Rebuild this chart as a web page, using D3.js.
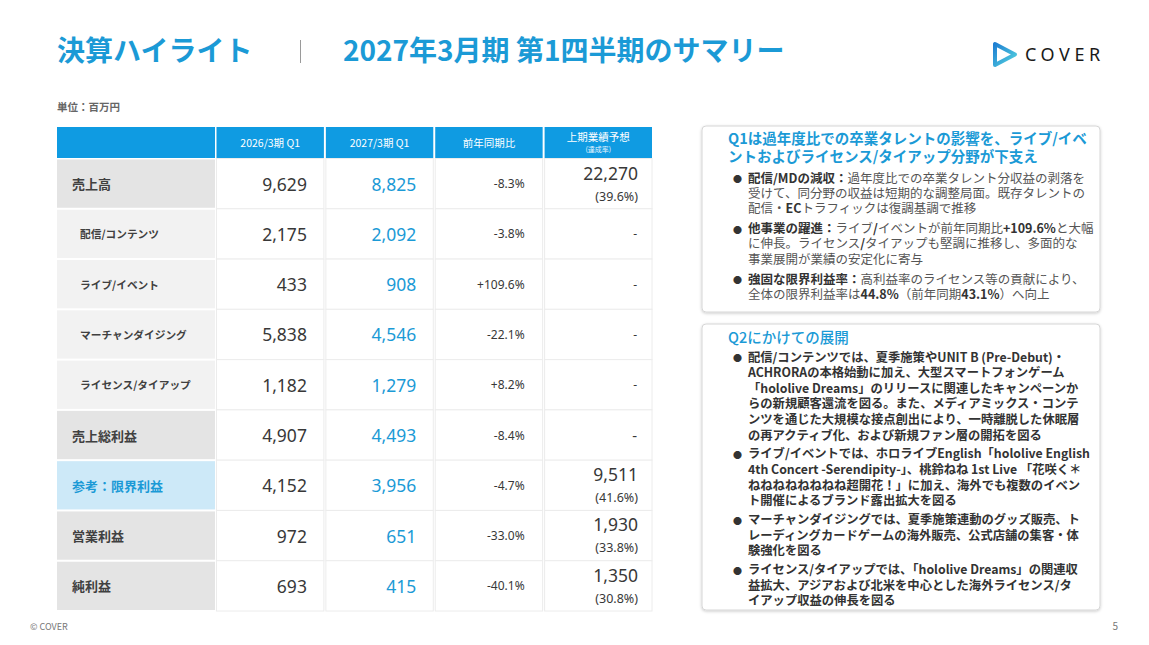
<!DOCTYPE html>
<html>
<head>
<meta charset="utf-8">
<script src="https://cdn.jsdelivr.net/npm/d3@7"></script>
<style>
  body { margin: 0; background: #fff; }
  svg { display: block; font-family: "Noto Sans CJK JP", "Noto Sans", sans-serif; }
</style>
</head>
<body>
<div id="chart"></div>
<script>
// ---- data ----
var categories = ['売上高', '配信/コンテンツ', 'ライブ/イベント', 'マーチャンダイジング', 'ライセンス/タイアップ',
                  '売上総利益', '参考：限界利益', '営業利益', '純利益'];
var rowKinds = ['main', 'sub', 'sub', 'sub', 'sub', 'main', 'ref', 'main', 'main'];
var q1FY2026 = [9629, 2175, 433, 5838, 1182, 4907, 4152, 972, 693];
var q1FY2027 = [8825, 2092, 908, 4546, 1279, 4493, 3956, 651, 415];
var yoyChange = [-8.3, -3.8, 109.6, -22.1, 8.2, -8.4, -4.7, -33.0, -40.1];
var h1Forecast = [22270, null, null, null, null, null, 9511, 1930, 1350];
var h1Achievement = [39.6, null, null, null, null, null, 41.6, 33.8, 30.8];
var columnHeaders = ['2026/3期 Q1', '2027/3期 Q1', '前年同期比', '上期業績予想'];

// text of the two comment boxes: each bullet is a list of lines, each line a list of [text, bold]
var q1Title = ['Q1は過年度比での卒業タレントの影響を、ライブ/イベ', 'ントおよびライセンス/タイアップ分野が下支え'];
var q1Bullets = [
  [[['配信/MDの減収：', 1], ['過年度比での卒業タレント分収益の剥落を', 0]],
   [['受けて、同分野の収益は短期的な調整局面。既存タレントの', 0]],
   [['配信・', 0], ['EC', 1], ['トラフィックは復調基調で推移', 0]]],
  [[['他事業の躍進：', 1], ['ライブ', 0], ['/', 1], ['イベントが前年同期比', 0], ['+109.6%', 1], ['と大幅', 0]],
   [['に伸長。ライセンス', 0], ['/', 1], ['タイアップも堅調に推移し、多面的な', 0]],
   [['事業展開が業績の安定化に寄与', 0]]],
  [[['強固な限界利益率：', 1], ['高利益率のライセンス等の貢献により、', 0]],
   [['全体の限界利益率は', 0], ['44.8%', 1], ['（前年同期', 0], ['43.1%', 1], ['）へ向上', 0]]]
];
var q2Title = ['Q2にかけての展開'];
var q2Bullets = [
  [[['配信/コンテンツでは、夏季施策やUNIT B (Pre-Debut)・', 1]],
   [['ACHRORAの本格始動に加え、大型スマートフォンゲーム', 1]],
   [['「hololive Dreams」のリリースに関連したキャンペーンか', 1]],
   [['らの新規顧客還流を図る。また、メディアミックス・コンテ', 1]],
   [['ンツを通じた大規模な接点創出により、一時離脱した休眠層', 1]],
   [['の再アクティブ化、および新規ファン層の開拓を図る', 1]]],
  [[['ライブ/イベントでは、ホロライブEnglish「hololive English', 1]],
   [['4th Concert -Serendipity-」、桃鈴ねね 1st Live 「花咲く＊', 1]],
   [['ねねねねねねねね超開花！」に加え、海外でも複数のイベン', 1]],
   [['ト開催によるブランド露出拡大を図る', 1]]],
  [[['マーチャンダイジングでは、夏季施策連動のグッズ販売、ト', 1]],
   [['レーディングカードゲームの海外販売、公式店舗の集客・体', 1]],
   [['験強化を図る', 1]]],
  [[['ライセンス/タイアップでは、「hololive Dreams」の関連収', 1]],
   [['益拡大、アジアおよび北米を中心とした海外ライセンス/タ', 1]],
   [['イアップ収益の伸長を図る', 1]]]
];

var W = 1149, H = 645;
var BLUE = '#1b9ad6', HEAD = '#0f9be2', DARK = '#383838';

var svg = d3.select('#chart').append('svg')
    .attr('width', W).attr('height', H);

var defs = svg.append('defs');
var shadow = defs.append('filter').attr('id', 'shadow')
    .attr('x', '-5%').attr('y', '-5%').attr('width', '110%').attr('height', '115%');
shadow.append('feDropShadow')
    .attr('dx', 0).attr('dy', 1).attr('stdDeviation', 1.5)
    .attr('flood-color', '#000').attr('flood-opacity', 0.2);
var grad = defs.append('linearGradient').attr('id', 'logoGrad')
    .attr('x1', '0%').attr('y1', '0%').attr('x2', '100%').attr('y2', '100%');
grad.append('stop').attr('offset', '0%').attr('stop-color', '#1f7fd2');
grad.append('stop').attr('offset', '100%').attr('stop-color', '#55d3df');

// ---- header ----
svg.append('text')
    .attr('x', 57).attr('y', 61)
    .attr('font-size', 28).attr('font-weight', 700).attr('fill', BLUE)
    .text('決算ハイライト');
svg.append('line')
    .attr('x1', 300.5).attr('x2', 300.5).attr('y1', 40).attr('y2', 63)
    .attr('stroke', '#9a9a9a').attr('stroke-width', 1);
svg.append('text')
    .attr('x', 343).attr('y', 61)
    .attr('font-size', 28).attr('font-weight', 700).attr('fill', BLUE)
    .text('2027年3月期 第1四半期のサマリー');

// logo
svg.append('path')
    .attr('d', 'M995,44 L995,65 L1015,54.5 Z')
    .attr('fill', 'none').attr('stroke', 'url(#logoGrad)')
    .attr('stroke-width', 4).attr('stroke-linejoin', 'round');
svg.append('text')
    .attr('x', 1025).attr('y', 61)
    .attr('font-family', '"Noto Sans", sans-serif')
    .attr('font-size', 18).attr('letter-spacing', 4.6).attr('fill', '#1a1a1a')
    .text('COVER');

svg.append('text')
    .attr('x', 57).attr('y', 111)
    .attr('font-size', 10.5).attr('font-weight', 700).attr('fill', '#666')
    .text('単位：百万円');

// ---- table ----
var tableLeft = 57, labelRight = 215;
var x = d3.scaleBand().domain(columnHeaders).range([216.5, 652]).paddingInner(0.018);
var y = d3.scaleBand().domain(categories).range([159.5, 610]).paddingInner(0.04);
var fmt = d3.format(',');
var fmtYoy = function(v) { return (v > 0 ? '+' : '-') + Math.abs(v).toFixed(1) + '%'; };
var numFont = '"Noto Sans", sans-serif';

var table = svg.append('g');

// column header row
table.append('rect')
    .attr('x', tableLeft).attr('y', 127).attr('width', labelRight - tableLeft).attr('height', 31)
    .attr('fill', HEAD);
table.selectAll('.hcell').data(columnHeaders).enter().append('rect')
    .attr('class', 'hcell')
    .attr('x', function(d) { return x(d); }).attr('y', 127)
    .attr('width', x.bandwidth()).attr('height', 31)
    .attr('fill', HEAD);
table.selectAll('.htext').data(columnHeaders).enter().append('text')
    .attr('class', 'htext')
    .attr('text-anchor', 'middle')
    .attr('font-size', 10.5).attr('fill', '#fff')
    .each(function(d, i) {
      var t = d3.select(this);
      var cx = x(d) + x.bandwidth() / 2;
      if (i === 3) {
        t.append('tspan').attr('x', cx).attr('y', 141).text(d);
        t.append('tspan').attr('x', cx).attr('y', 152)
            .attr('font-size', 7).attr('fill', '#e8f6ff').text('(達成率)');
      } else {
        t.attr('x', cx).attr('y', 146.5).text(d);
      }
    });

var labelFill = { main: '#e4e4e4', sub: '#f2f2f2', ref: '#cde9f8' };

table.selectAll('.row').data(categories).enter().append('g')
    .attr('class', 'row')
    .each(function(cat, i) {
      var self = d3.select(this);
      var top = y(cat), bh = y.bandwidth(), mid = top + bh / 2;
      var kind = rowKinds[i];

      self.append('rect')
          .attr('x', tableLeft).attr('y', top)
          .attr('width', labelRight - tableLeft).attr('height', bh)
          .attr('fill', labelFill[kind]);
      self.append('text')
          .attr('x', kind === 'sub' ? 80 : 72).attr('y', mid)
          .attr('dominant-baseline', 'central')
          .attr('font-size', kind === 'sub' ? 10.7 : 13)
          .attr('font-weight', 700)
          .attr('fill', kind === 'ref' ? BLUE : '#404040')
          .text(cat);

      columnHeaders.forEach(function(col) {
        self.append('rect')
            .attr('x', x(col)).attr('y', top - 1)
            .attr('width', x.bandwidth()).attr('height', bh + 2)
            .attr('fill', '#fff').attr('stroke', '#ececec').attr('stroke-width', 1);
      });

      self.append('text')
          .attr('x', x(columnHeaders[0]) + x.bandwidth() - 17).attr('y', mid)
          .attr('text-anchor', 'end').attr('dominant-baseline', 'central')
          .attr('font-family', numFont).attr('font-size', 17.5).attr('fill', DARK)
          .text(fmt(q1FY2026[i]));
      self.append('text')
          .attr('x', x(columnHeaders[1]) + x.bandwidth() - 17).attr('y', mid)
          .attr('text-anchor', 'end').attr('dominant-baseline', 'central')
          .attr('font-family', numFont).attr('font-size', 17.5).attr('fill', BLUE)
          .text(fmt(q1FY2027[i]));
      self.append('text')
          .attr('x', x(columnHeaders[2]) + x.bandwidth() - 18).attr('y', mid)
          .attr('text-anchor', 'end').attr('dominant-baseline', 'central')
          .attr('font-family', numFont).attr('font-size', 12).attr('fill', DARK)
          .text(fmtYoy(yoyChange[i]));

      var fx = x(columnHeaders[3]) + x.bandwidth() - 14;
      if (h1Forecast[i] != null) {
        var ft = self.append('text')
            .attr('text-anchor', 'end')
            .attr('font-family', numFont).attr('fill', DARK);
        ft.append('tspan').attr('x', fx).attr('y', top + 20)
            .attr('font-size', 17.5).text(fmt(h1Forecast[i]));
        ft.append('tspan').attr('x', fx).attr('y', top + 41)
            .attr('font-size', 12.5).text('(' + h1Achievement[i].toFixed(1) + '%)');
      } else {
        self.append('text')
            .attr('x', fx - 1).attr('y', mid)
            .attr('text-anchor', 'end').attr('dominant-baseline', 'central')
            .attr('font-family', numFont).attr('font-size', kind === 'main' ? 15 : 12).attr('fill', DARK)
            .text('-');
      }
    });

// ---- comment boxes ----
function drawBox(box) {
  var g = svg.append('g');
  g.append('rect')
      .attr('x', 702).attr('y', box.top).attr('width', 398).attr('height', box.bottom - box.top)
      .attr('rx', 4).attr('fill', '#fff')
      .attr('stroke', '#d6d6d6').attr('stroke-width', 1)
      .attr('filter', 'url(#shadow)');

  var tt = g.append('text')
      .attr('font-size', 14.5).attr('font-weight', box.titleWeight).attr('fill', BLUE);
  box.title.forEach(function(line, i) {
    tt.append('tspan').attr('x', 728).attr('y', box.titleY + 5 + i * 18).text(line);
  });

  var yy = box.firstLine + 4.5;
  box.bullets.forEach(function(lines) {
    var t = g.append('text').attr('font-size', box.fontSize);
    t.append('tspan')
        .attr('x', 733).attr('y', yy - 0.5)
        .attr('font-size', 9).attr('fill', '#333')
        .text('●');
    lines.forEach(function(segs) {
      var line = t.append('tspan').attr('x', 748).attr('y', yy);
      segs.forEach(function(s) {
        line.append('tspan')
            .attr('font-weight', s[1] ? 700 : 400)
            .attr('fill', s[1] ? '#333' : '#555')
            .text(s[0]);
      });
      yy += box.lineH;
    });
    yy += box.gap;
  });
}

drawBox({ top: 126, bottom: 312, title: q1Title, titleY: 139, titleWeight: 700, fontSize: 12.5,
          bullets: q1Bullets, firstLine: 178, lineH: 15.3, gap: 4.6 });
drawBox({ top: 324, bottom: 610, title: q2Title, titleY: 338, titleWeight: 500, fontSize: 12.3,
          bullets: q2Bullets, firstLine: 357, lineH: 15.6, gap: 3.3 });

// ---- footer ----
svg.append('text')
    .attr('x', 30).attr('y', 630)
    .attr('font-size', 9).attr('fill', '#777')
    .text('© COVER');
svg.append('text')
    .attr('x', 1118).attr('y', 630)
    .attr('text-anchor', 'end').attr('font-size', 10).attr('fill', '#777')
    .text('5');
</script>
</body>
</html>
